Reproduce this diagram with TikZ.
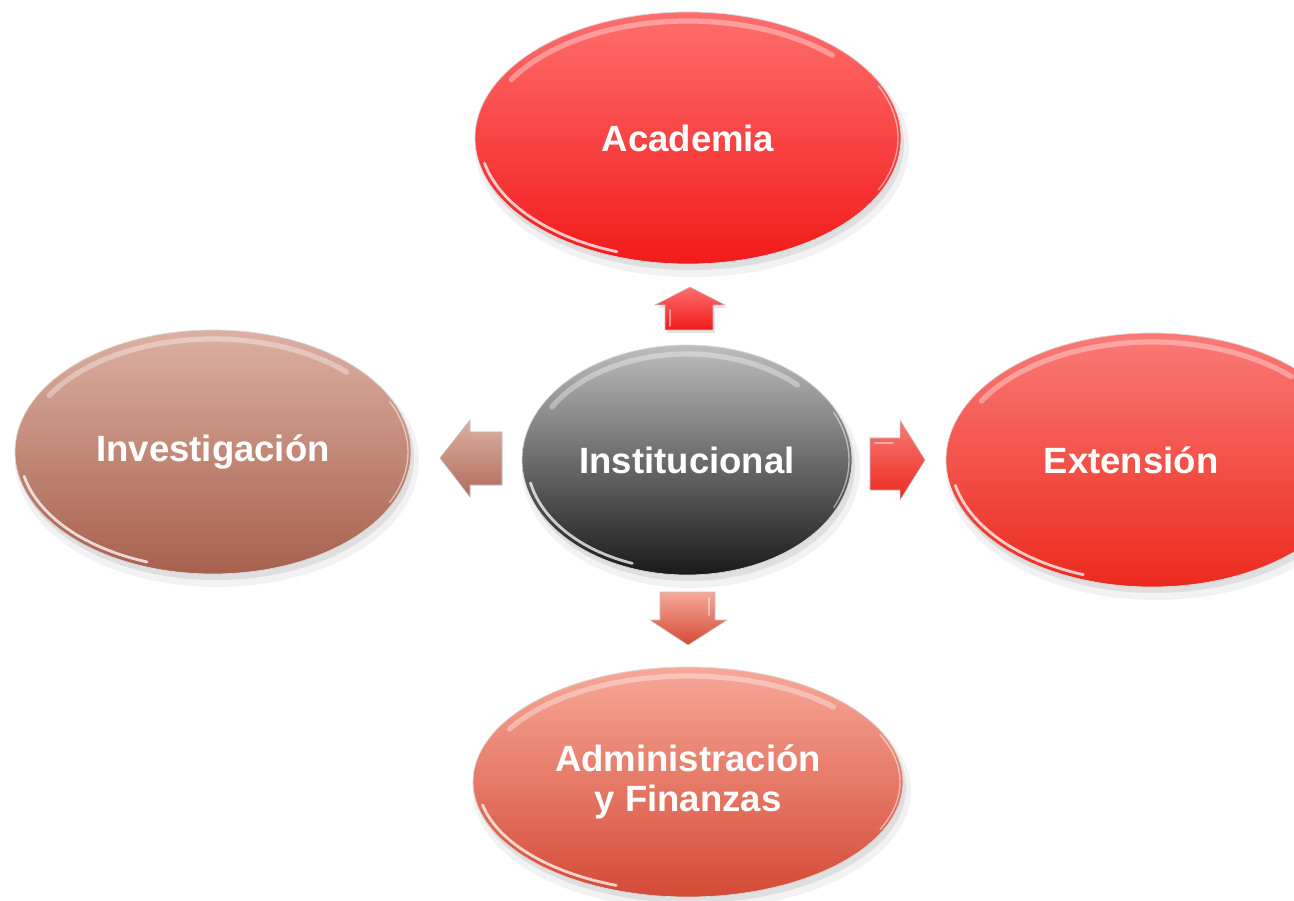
\documentclass[tikz,border=0pt]{standalone}
\usepackage{fontspec}
\setmainfont{Liberation Sans}
\usetikzlibrary{shapes.geometric}
\definecolor{acadT}{HTML}{FF6E6E}
\definecolor{acadB}{HTML}{F21A1A}
\definecolor{extT}{HTML}{FA7A76}
\definecolor{extB}{HTML}{EC2A1E}
\definecolor{invT}{HTML}{DCB0A2}
\definecolor{invB}{HTML}{A8604E}
\definecolor{admT}{HTML}{F7A898}
\definecolor{admB}{HTML}{D44A36}
\definecolor{insT}{HTML}{BDBDBD}
\definecolor{insB}{HTML}{1A1A1A}
\tikzset{
  lbl/.style={font=\bfseries\fontsize{20.8}{22.7}\selectfont, text=white, align=center},
  ellbox/.style={ellipse, inner sep=0pt, draw=white!85!black, line width=0.4pt},
  rim/.style={white, line cap=round},
  barrow/.style={draw=white!75!black, line width=0.3pt}
}
% name, x, y, rx, ry, top, bottom, text
\newcommand\glossell[8]{%
  \fill[black, opacity=0.05] (#2+4,#3-9) ellipse [x radius={(#4+4)*0.02cm}, y radius={(#5+4)*0.02cm}];
  \fill[black, opacity=0.08] (#2+3,#3-6) ellipse [x radius={#4*0.02cm}, y radius={#5*0.02cm}];
  \node[ellbox, top color=#6, bottom color=#7, minimum width={2*#4*0.02cm}, minimum height={2*#5*0.02cm}] (#1) at (#2,#3) {};
  \draw[rim, opacity=0.35, line width=3pt] (#2,#3) ++(150:{(#4-9)*0.02cm} and {(#5-9)*0.02cm})
     arc[start angle=150, end angle=45, x radius={(#4-9)*0.02cm}, y radius={(#5-9)*0.02cm}];
  \draw[rim, opacity=0.75, line width=1.6pt] (#2,#3) ++(192:{(#4-5)*0.02cm} and {(#5-5)*0.02cm})
     arc[start angle=192, end angle=250, x radius={(#4-5)*0.02cm}, y radius={(#5-5)*0.02cm}];
  \draw[rim, opacity=0.5, line width=0.8pt] (#2,#3) ++(-25:{(#4-3)*0.02cm} and {(#5-3)*0.02cm})
     arc[start angle=-25, end angle=25, x radius={(#4-3)*0.02cm}, y radius={(#5-3)*0.02cm}];
}
\begin{document}
\begin{tikzpicture}[x=0.02cm, y=0.02cm]
\useasboundingbox (0,0) rectangle (1294,900);
\clip (0,0) rectangle (1294,900);
\fill[white] (0,0) rectangle (1294,900);

\glossell{acad}{688}{762}{213}{126}{acadT}{acadB}{}
\node[lbl] (acadtxt) at (acad.center) {Academia};

\glossell{inv}{213}{448}{198}{122}{invT}{invB}{}
\node[lbl] (invtxt) at (inv.center) {Investigación};

\glossell{ins}{687}{440}{165}{115}{insT}{insB}{}
\node[lbl] (instxt) at (ins.center) {Institucional};

\glossell{ext}{1152}{440}{206}{127}{extT}{extB}{}
\node[lbl] (exttxt) at (1131,440) {Extensión};

\glossell{adm}{688}{118}{215}{115}{admT}{admB}{}
\node[lbl] (admtxt) at (adm.center) {Administración\\y Finanzas};

% block arrows
\fill[black, opacity=0.10] (667,567) -- (715,567) -- (715,592) -- (727,592) -- (692,611) -- (657,592) -- (667,592) -- cycle;
\path[barrow, top color=acadT, bottom color=acadB]
  (665,570) -- (713,570) -- (713,595) -- (725,595) -- (690,613) -- (655,595) -- (665,595) -- cycle;
\path[barrow, top color=invT, bottom color=invB!85!invT]
  (502,415) -- (502,468) -- (470,468) -- (470,480) -- (440,442) -- (470,403) -- (470,415) -- cycle;
\path[barrow, top color=extT, bottom color=extB]
  (870,410) -- (870,462) -- (900,462) -- (900,480) -- (925,440) -- (900,400) -- (900,410) -- cycle;
\path[barrow, top color=admT, bottom color=admB]
  (660,308) -- (715,308) -- (715,280) -- (727,280) -- (688,255) -- (650,280) -- (660,280) -- cycle;
\draw[white, opacity=0.45, line width=1pt, line cap=round] (670,574) -- (670,590);
\draw[white, opacity=0.45, line width=1pt, line cap=round] (875,457) -- (893,457);
\draw[white, opacity=0.45, line width=1pt, line cap=round] (709,285) -- (709,302);
\end{tikzpicture}
\end{document}
